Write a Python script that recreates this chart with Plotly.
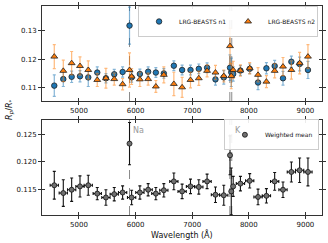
import plotly.graph_objects as go

# ---------------- data ----------------
wavelength = [4564, 4723, 4871, 5018, 5164, 5323, 5476, 5623, 5771, 5893,
              5930, 6076, 6222, 6358, 6499, 6676, 6822, 6970, 7117, 7263,
              7411, 7558, 7668, 7690, 7724, 7852, 8016, 8163, 8311, 8457,
              8604, 8752, 8898, 9045]
bin_halfwidth = [73, 73, 73, 73, 73, 73, 73, 73, 73, 15,
                 73, 73, 73, 73, 73, 73, 73, 73, 73, 73,
                 73, 73, 15, 15, 15, 73, 73, 73, 73, 73,
                 73, 73, 73, 73]

n1 = [0.1107, 0.1130, 0.1138, 0.1140, 0.1136, 0.1153, 0.1133, 0.1147, 0.1155, 0.1318,
      0.1136, 0.1148, 0.1156, 0.1153, 0.1150, 0.1177, 0.1162, 0.1162, 0.1166, 0.1170,
      0.1129, 0.1136, 0.1170, 0.1154, 0.1148, 0.1160, 0.1166, 0.1118, 0.1168, 0.1176,
      0.1133, 0.1191, 0.1183, 0.1162]
n1_err = [0.0038, 0.0026, 0.0020, 0.0020, 0.0032, 0.0020, 0.0016, 0.0017, 0.0018, 0.0065,
          0.0017, 0.0017, 0.0017, 0.0017, 0.0017, 0.0017, 0.0017, 0.0017, 0.0017, 0.0017,
          0.0020, 0.0024, 0.0045, 0.0050, 0.0025, 0.0017, 0.0017, 0.0025, 0.0020, 0.0020,
          0.0024, 0.0020, 0.0024, 0.0030]

n2 = [0.1209, 0.1159, 0.1186, 0.1176, 0.1162, 0.1127, 0.1133, 0.1130, 0.1112, 0.1162,
      0.1139, 0.1129, 0.1130, 0.1104, 0.1145, 0.1113, 0.1101, 0.1127, 0.1133, 0.1159,
      0.1153, 0.1141, 0.1246, 0.1141, 0.1162, 0.1160, 0.1168, 0.1145, 0.1121, 0.1159,
      0.1174, 0.1162, 0.1186, 0.1209]
n2_err = [0.0042, 0.0038, 0.0041, 0.0032, 0.0032, 0.0023, 0.0035, 0.0021, 0.0020, 0.0060,
          0.0028, 0.0025, 0.0021, 0.0021, 0.0028, 0.0041, 0.0035, 0.0028, 0.0025, 0.0021,
          0.0025, 0.0021, 0.0063, 0.0045, 0.0030, 0.0020, 0.0020, 0.0025, 0.0021, 0.0025,
          0.0032, 0.0032, 0.0038, 0.0042]

wmean = [0.1158, 0.1144, 0.1150, 0.1156, 0.1158, 0.1143, 0.1136, 0.1142, 0.1145, 0.1233,
         0.1136, 0.1145, 0.1150, 0.1143, 0.1149, 0.1165, 0.1147, 0.1156, 0.1155, 0.1165,
         0.1141, 0.1140, 0.1212, 0.1147, 0.1156, 0.1161, 0.1166, 0.1137, 0.1139, 0.1165,
         0.1150, 0.1182, 0.1185, 0.1182]
wmean_err = [0.0025, 0.0024, 0.0021, 0.0019, 0.0018, 0.0011, 0.0014, 0.0012, 0.0012, 0.0038,
             0.0013, 0.0012, 0.0011, 0.0011, 0.0012, 0.0015, 0.0013, 0.0013, 0.0013, 0.0013,
             0.0014, 0.0018, 0.0035, 0.0042, 0.0018, 0.0013, 0.0013, 0.0014, 0.0013, 0.0016,
             0.0014, 0.0018, 0.0022, 0.0025]

line_wl = [5893, 7665, 7699]
line_labels = ["Na", "K"]
line_label_wl = [5893, 7699]

x_range = [4347, 9293]
top_range = [0.1053, 0.1387]
bot_range = [0.11045, 0.12755]
top_ticks = [0.11, 0.12, 0.13]
bot_ticks = [0.115, 0.120, 0.125]
x_ticks = [5000, 6000, 7000, 8000, 9000]

# ---------------- figure ----------------
FONT = "DejaVu Sans"
fig = go.Figure()

fig.add_trace(go.Scatter(
    x=wavelength, y=n1, mode="markers", name="LRG-BEASTS n1",
    xaxis="x", yaxis="y", legend="legend",
    marker=dict(symbol="circle", size=5.5, color="#1f77b4",
                line=dict(color="#222222", width=0.8)),
    error_y=dict(type="data", array=n1_err, color="rgba(31,119,180,0.55)",
                 thickness=1.2, width=1.5),
))
fig.add_trace(go.Scatter(
    x=wavelength, y=n2, mode="markers", name="LRG-BEASTS n2",
    xaxis="x", yaxis="y", legend="legend",
    marker=dict(symbol="triangle-up", size=6, color="#ff7f0e",
                line=dict(color="#222222", width=0.8)),
    error_y=dict(type="data", array=n2_err, color="rgba(255,127,14,0.55)",
                 thickness=1.2, width=1.5),
))
fig.add_trace(go.Scatter(
    x=wavelength, y=wmean, mode="markers", name="Weighted mean",
    xaxis="x2", yaxis="y2", legend="legend2",
    marker=dict(symbol="circle", size=5, color="#707070",
                line=dict(color="#111111", width=0.8)),
    error_y=dict(type="data", array=wmean_err, color="#111111",
                 thickness=1.1, width=1.5),
    error_x=dict(type="data", array=bin_halfwidth, color="#111111",
                 thickness=1.1, width=1.5),
))

# dummy traces to activate overlay axes (inward tick halves)
for xa, ya in [("x3", "y"), ("x", "y3"), ("x4", "y2"), ("x2", "y4")]:
    fig.add_trace(go.Scatter(x=[None], y=[None], xaxis=xa, yaxis=ya,
                             showlegend=False, hoverinfo="skip"))

top_dom = [0.5455, 1.0]
bot_dom = [0.0, 0.4545]

axis_common = dict(showgrid=False, zeroline=False, showline=True, mirror="allticks",
                   linecolor="#333333", linewidth=1, ticks="outside", ticklen=3,
                   tickwidth=1, tickcolor="#333333", automargin=False,
                   tickfont=dict(family=FONT, size=7, color="#111111"))
over_common = dict(showgrid=False, zeroline=False, showline=False, mirror="allticks",
                   ticks="inside", ticklen=3, tickwidth=1, tickcolor="#333333",
                   showticklabels=False, automargin=False)

fig.update_layout(
    template="none",
    width=328, height=243,
    margin=dict(l=42, r=6, t=6, b=28, autoexpand=False),
    paper_bgcolor="white", plot_bgcolor="white",
    font=dict(family=FONT, size=7, color="#111111"),
    xaxis=dict(domain=[0, 1], anchor="y", range=x_range, tickvals=x_ticks, **axis_common),
    yaxis=dict(domain=top_dom, anchor="x", range=top_range, tickvals=top_ticks,
               tickformat=".2f", **axis_common),
    xaxis2=dict(domain=[0, 1], anchor="y2", range=x_range, tickvals=x_ticks, **axis_common),
    yaxis2=dict(domain=bot_dom, anchor="x2", range=bot_range, tickvals=bot_ticks,
                tickformat=".3f", **axis_common),
    xaxis3=dict(overlaying="x", anchor="y", range=x_range, tickvals=x_ticks, **over_common),
    yaxis3=dict(overlaying="y", anchor="x", range=top_range, tickvals=top_ticks, **over_common),
    xaxis4=dict(overlaying="x2", anchor="y2", range=x_range, tickvals=x_ticks, **over_common),
    yaxis4=dict(overlaying="y2", anchor="x2", range=bot_range, tickvals=bot_ticks, **over_common),
    legend=dict(orientation="h", x=0.986, xanchor="right", y=1.0, yanchor="top",
                bgcolor="rgba(255,255,255,0.9)", bordercolor="#cccccc", borderwidth=1,
                font=dict(family=FONT, size=6, color="#111111"), itemwidth=30,
                entrywidth=44, tracegroupgap=0),
    legend2=dict(orientation="h", x=0.989, xanchor="right", y=0.458, yanchor="top",
                 bgcolor="rgba(255,255,255,0.9)", bordercolor="#cccccc", borderwidth=1,
                 font=dict(family=FONT, size=6, color="#111111"), itemwidth=30),
    showlegend=True,
)

# vertical dashed lines at the Na and K wavelengths (both panels)
for wl in line_wl:
    for xr, yr in [("x", "y"), ("x2", "y2")]:
        fig.add_shape(type="line", xref=xr, yref=f"{yr} domain", x0=wl, x1=wl, y0=0, y1=1,
                      line=dict(color="#8a8a8a", width=1, dash="dash"), layer="below")

for lab, wl in zip(line_labels, line_label_wl):
    fig.add_annotation(x=wl, y=0.1257, xref="x2", yref="y2", text=lab, showarrow=False,
                       xanchor="left", yanchor="middle", xshift=1,
                       font=dict(family=FONT, size=8, color="#999999"))

fig.add_annotation(x=0.5, y=-0.091, xref="paper", yref="paper", text="Wavelength (Å)",
                   showarrow=False, xanchor="center", yanchor="middle",
                   font=dict(family=FONT, size=8, color="#111111"))
fig.add_annotation(x=-0.115, y=0.502, xref="paper", yref="paper",
                   text="<i>R</i><sub><i>p</i></sub>/<i>R</i><sub>*</sub>",
                   showarrow=False, textangle=-90, xanchor="center", yanchor="middle",
                   font=dict(family=FONT, size=8, color="#111111"))

fig.write_html("out.html", config={"displayModeBar": False},
               post_script="document.body.style.margin='0';document.body.style.overflow='hidden';")
